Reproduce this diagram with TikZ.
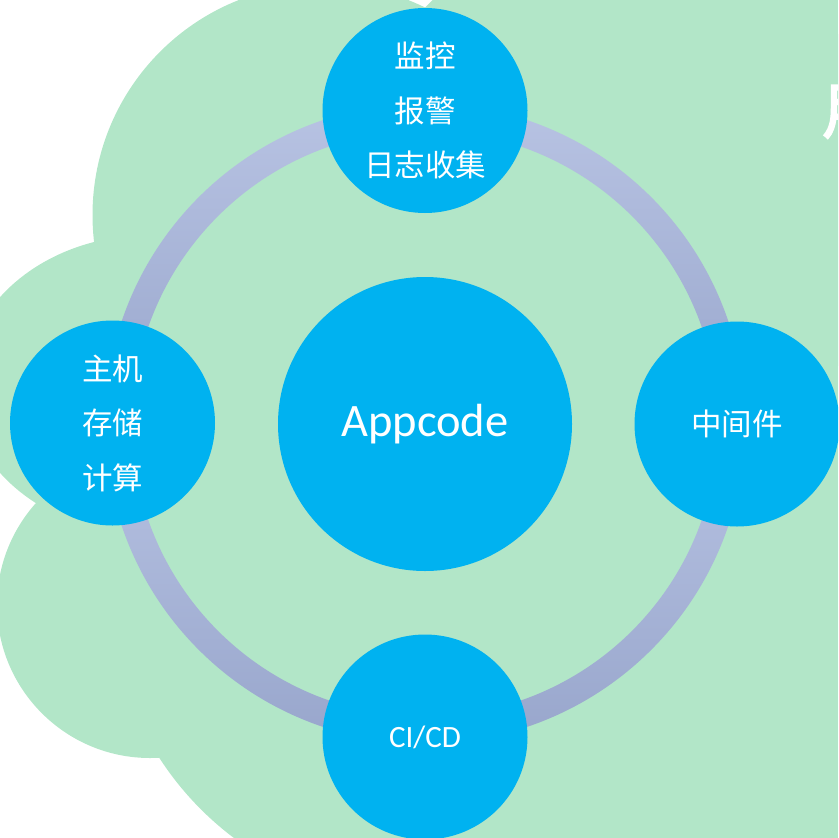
\documentclass[tikz,border=0pt]{standalone}
\usepackage{fontspec}
\newfontfamily\cjk{Noto Sans CJK SC}
\newfontfamily\cjkheavy[FakeBold=3]{Noto Sans CJK SC}
\newfontfamily\lat{Carlito}
\definecolor{cloudgreen}{RGB}{178,230,200}
\definecolor{nodeblue}{RGB}{0,178,240}
\definecolor{ringlight}{RGB}{184,195,227}
\definecolor{ringdark}{RGB}{152,166,204}
\tikzset{
  cloudpart/.style={fill=cloudgreen},
  ringpart/.style={top color=ringlight, bottom color=ringdark},
  bubble/.style={circle, fill=nodeblue, minimum size=205pt, inner sep=0pt,
    text=white, align=center, font=\cjk\fontsize{30.5}{54.5}\selectfont},
  hub/.style={circle, fill=nodeblue, minimum size=294pt, inner sep=0pt,
    text=white, font=\lat\fontsize{46.5}{54}\selectfont},
}
\begin{document}
\begin{tikzpicture}[x=1pt,y=-1pt]
\useasboundingbox (0,0) rectangle (838,838);
\clip (0,0) rectangle (838,838);
% cloud
\fill[cloudpart] (323.5,215) circle[radius=231pt];
\fill[cloudpart] (620,200) circle[radius=274pt];
\fill[cloudpart] (150,385) ellipse[x radius=185pt, y radius=150pt];
\fill[cloudpart] (150,605) circle[radius=153pt];
\fill[cloudpart] (420,590) circle[radius=310pt];
\fill[cloudpart] (560,0) rectangle (838,838);
% ring
\coordinate (rc) at (425,423.5);
\foreach \a in {0,90,180,270}{
  \shade[ringpart] ([shift={(\a:320pt)}]rc) arc[start angle=\a, end angle=\a+90, radius=320pt]
    -- ([shift={(\a+90:293pt)}]rc) arc[start angle=\a+90, end angle=\a, radius=293pt] -- cycle;
}
% nodes
\node[hub] (app) at (425,424) {Appcode};
\node[bubble] (mon) at (425,110.5) {监控\\报警\\日志收集};
\node[bubble] (host) at (112.5,423) {主机\\存储\\计算};
\node[bubble] (mid) at (737,424) {中间件};
\node[bubble, font=\lat\fontsize{31}{36}\selectfont] (cicd) at (425,737) {CI/CD};
% cut-off title glyph at the right edge
\node[text=white, font=\cjkheavy\fontsize{62}{62}\selectfont, anchor=base west, inner sep=0pt] (frag) at (822,133) {用};
\end{tikzpicture}
\end{document}
